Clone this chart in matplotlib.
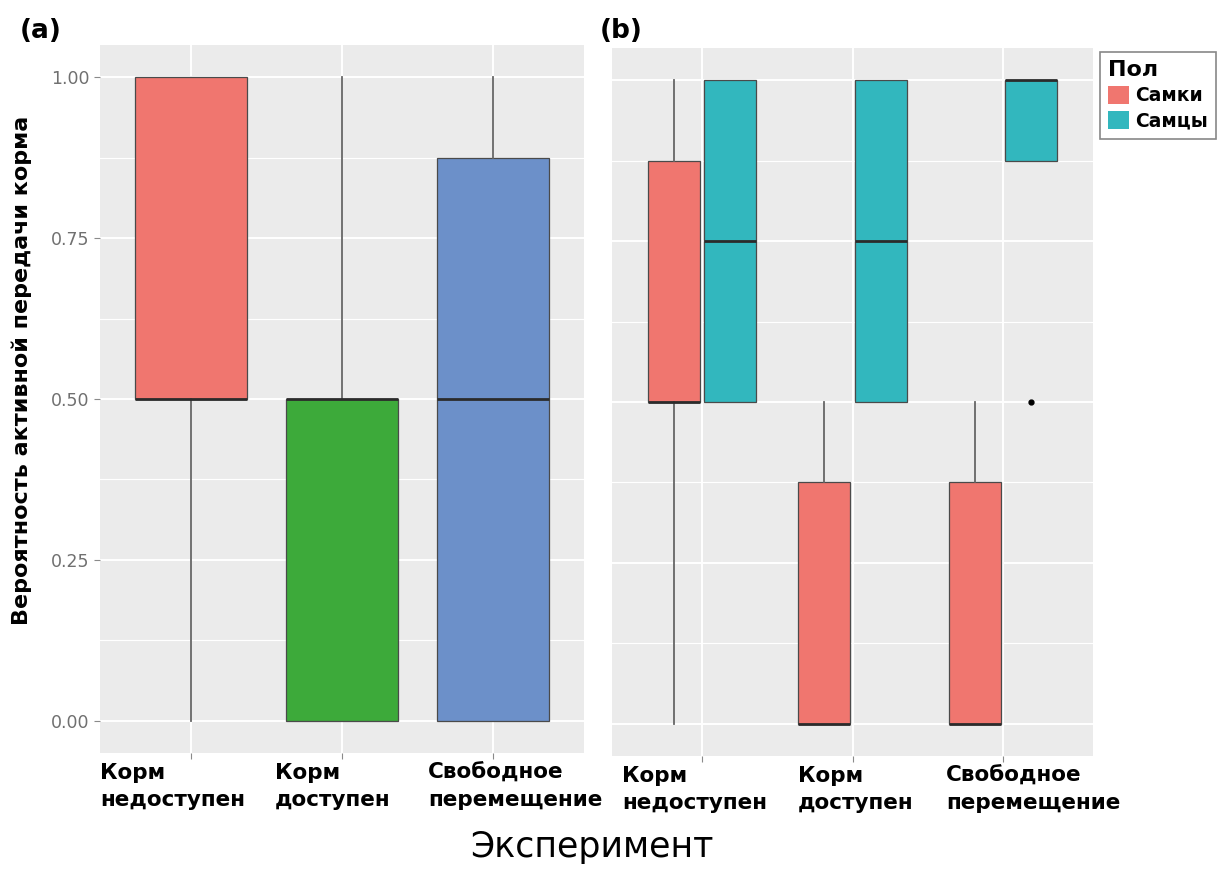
import numpy as np
import matplotlib.pyplot as plt
from matplotlib.patches import Patch
from matplotlib.transforms import ScaledTranslation

plt.rcParams['font.family'] = ['DejaVu Sans']

W, H = 1222, 869

categories = ["Корм\nнедоступен", "Корм\nдоступен", "Свободное\nперемещение"]

# (a) все животные
all_q1 = [0.5, 0.0, 0.0]
all_med = [0.5, 0.5, 0.5]
all_q3 = [1.0, 0.5, 0.875]
all_lo = [0.0, 0.0, 0.0]
all_hi = [1.0, 1.0, 1.0]
all_colors = ["#F0766F", "#3DAA3A", "#6C90C9"]

# (b) по полу
sex_labels = ["Самки", "Самцы"]
sex_colors = ["#F0766F", "#32B7BE"]
fem_q1 = [0.5, 0.0, 0.0]
fem_med = [0.5, 0.0, 0.0]
fem_q3 = [0.875, 0.375, 0.375]
fem_lo = [0.0, 0.0, 0.0]
fem_hi = [1.0, 0.5, 0.5]
male_q1 = [0.5, 0.5, 0.875]
male_med = [0.75, 0.75, 1.0]
male_q3 = [1.0, 1.0, 1.0]
male_lo = [0.5, 0.5, 0.875]
male_hi = [1.0, 1.0, 1.0]
male_out = [[], [], [0.5]]

y_ticks = [0.0, 0.25, 0.5, 0.75, 1.0]


def make_stats(q1, med, q3, lo, hi, out=None):
    stats = []
    for i in range(len(q1)):
        stats.append(dict(q1=q1[i], med=med[i], q3=q3[i],
                          whislo=lo[i], whishi=hi[i],
                          fliers=(out[i] if out else [])))
    return stats


def draw_boxes(ax, stats, pos, width, colors):
    bp = ax.bxp(stats, positions=pos, widths=width, patch_artist=True,
                showcaps=False,
                boxprops=dict(edgecolor="#4a4a4a", linewidth=0.9),
                whiskerprops=dict(color="#666666", linewidth=1.3),
                medianprops=dict(color="#2b2b2b", linewidth=2.0),
                flierprops=dict(marker="o", markersize=3.5,
                                markerfacecolor="black",
                                markeredgecolor="black"))
    for box, c in zip(bp["boxes"], colors):
        box.set_facecolor(c)
    return bp


def style_panel(ax):
    ax.set_facecolor("#EBEBEB")
    ax.set_xlim(0.4, 3.6)
    ax.set_ylim(-0.05, 1.05)
    ax.set_yticks(y_ticks)
    ax.set_yticks(np.arange(0.125, 1.0, 0.25), minor=True)
    ax.set_axisbelow(True)
    ax.grid(which="major", color="white", linewidth=1.4)
    ax.grid(which="minor", axis="y", color="white", linewidth=0.8)
    for s in ax.spines.values():
        s.set_visible(False)
    ax.tick_params(which="minor", length=0)
    ax.tick_params(axis="both", which="major", length=4, width=0.8,
                   color="#8a8a8a")


fig = plt.figure(figsize=(W / 100, H / 100), dpi=100)
ax1 = fig.add_axes([100 / W, (H - 753) / H, 484 / W, 708 / H])
ax2 = fig.add_axes([612 / W, (H - 756) / H, 481 / W, 708 / H])

x = np.arange(1, len(categories) + 1)

# (a)
style_panel(ax1)
draw_boxes(ax1, make_stats(all_q1, all_med, all_q3, all_lo, all_hi),
           x, 0.74, all_colors)
ax1.set_yticklabels([f"{v:.2f}" for v in y_ticks], fontsize=12.5,
                    color="#707070")

# (b)
style_panel(ax2)
dx = 0.1875
draw_boxes(ax2, make_stats(fem_q1, fem_med, fem_q3, fem_lo, fem_hi),
           x - dx, 0.345, [sex_colors[0]] * 3)
draw_boxes(ax2, make_stats(male_q1, male_med, male_q3, male_lo, male_hi,
                           male_out),
           x + dx, 0.345, [sex_colors[1]] * 3)
ax2.tick_params(axis="y", left=False, labelleft=False)

# подписи категорий, выровненные по левому краю
label_shift = {ax1: [-91, -67, -65], ax2: [-80, -55, -57]}
for ax in (ax1, ax2):
    ax.set_xticks(x)
    ax.set_xticklabels(categories, fontsize=15.5, fontweight="bold",
                       ha="left", linespacing=1.45)
    ax.tick_params(axis="x", pad=3)
    for lbl, s in zip(ax.get_xticklabels(), label_shift[ax]):
        lbl.set_transform(lbl.get_transform() +
                          ScaledTranslation(s / 100, 0, fig.dpi_scale_trans))

fig.text(22 / W, 1 - 370 / H, "Вероятность активной передачи корма",
         rotation=90, ha="center", va="center", fontsize=16,
         fontweight="bold")
fig.text(592 / W, 1 - 857 / H, "Эксперимент", ha="center", va="baseline",
         fontsize=25)
fig.text(20 / W, 1 - 31 / H, "(a)", ha="left", va="center", fontsize=19,
         fontweight="bold")
fig.text(600 / W, 1 - 31 / H, "(b)", ha="left", va="center", fontsize=19,
         fontweight="bold")

handles = [Patch(facecolor=c, edgecolor="none") for c in sex_colors]
leg = fig.legend(handles, sex_labels, title="Пол", loc="upper left",
                 bbox_to_anchor=(1100 / W, 1 - 52 / H), frameon=True,
                 fancybox=False, edgecolor="#888888", framealpha=1,
                 prop=dict(weight="bold", size=13.5),
                 title_fontproperties=dict(weight="bold", size=16),
                 alignment="left", handlelength=1.1, handleheight=1.1,
                 handletextpad=0.3, borderpad=0.45, labelspacing=0.3,
                 borderaxespad=0)
leg.get_frame().set_linewidth(1.2)

fig.savefig("out.png", dpi=100)
